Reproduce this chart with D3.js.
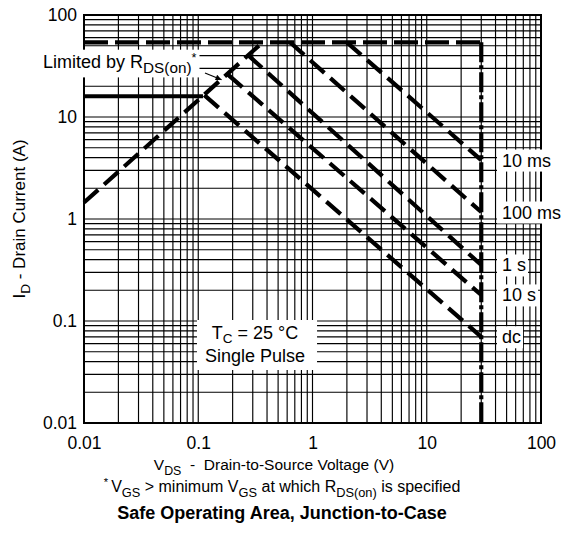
<!DOCTYPE html>
<html><head><meta charset="utf-8">
<script src="https://cdn.jsdelivr.net/npm/d3@7"></script>
<style>
body{margin:0;background:#fff}
svg{display:block}
text{font-family:"Liberation Sans",Arial,Helvetica,sans-serif;fill:#000}
</style>
</head><body>
<svg id="c" width="561" height="550"></svg>
<script>
// ---- data ----
const xTickValues = [0.01, 0.1, 1, 10, 100];
const xTickLabels = ["0.01", "0.1", "1", "10", "100"];
const yTickValues = [0.01, 0.1, 1, 10, 100];
const yTickLabels = ["0.01", "0.1", "1", "10", "100"];
const rdsLimit = [[0.01, 1.45], [0.366, 54]];
const currentLimit = [[0.01, 54], [30, 54]];
const voltageLimit = [[30, 54], [30, 0.01]];
const packageLimit = [[0.01, 16], [0.11, 16]];
const pulseLabels = ["10 ms", "100 ms", "1 s", "10 s", "dc"];
const pulseStart = [[2.0, 54], [0.635, 54], [0.272, 40.5], [0.182, 26], [0.113, 16.4]];
const pulseEnd = [[30, 3.78], [30, 1.17], [30, 0.354], [30, 0.18], [30, 0.07]];
const arrowTarget = [0.16, 23.2];

// ---- layout ----
const svg = d3.select("#c");
const x = d3.scaleLog().domain([0.01, 100]).range([84, 541]);
const y = d3.scaleLog().domain([0.01, 100]).range([423, 15]);

function rich(sel, parts, size, subF, subShift) {
  subF = subF || 0.8;
  subShift = subShift || 0.3;
  let state = 0;
  parts.forEach(p => {
    const ts = sel.append("tspan").text(p.t);
    let dy = 0;
    if (state === 1) dy -= size * subShift;
    if (state === 2) dy += size * 0.35;
    if (p.sub) { ts.attr("font-size", size * subF); dy += size * subShift; state = 1; }
    else if (p.sup) { ts.attr("font-size", size * 0.7); dy -= size * 0.35; state = 2; }
    else state = 0;
    if (dy) ts.attr("dy", dy);
  });
  return sel;
}

// grid
const grid = svg.append("g").attr("stroke", "#000").attr("stroke-width", 1.15);
grid.selectAll("line.v").data(x.ticks()).join("line")
  .attr("x1", d => x(d)).attr("x2", d => x(d)).attr("y1", y(0.01)).attr("y2", y(100));
grid.selectAll("line.h").data(y.ticks()).join("line")
  .attr("y1", d => y(d)).attr("y2", d => y(d)).attr("x1", x(0.01)).attr("x2", x(100));
svg.append("rect").attr("x", x(0.01)).attr("y", y(100))
  .attr("width", x(100) - x(0.01)).attr("height", y(0.01) - y(100))
  .attr("fill", "none").attr("stroke", "#000").attr("stroke-width", 2);

// axes labels
const ax = svg.append("g").attr("transform", `translate(0,${y(0.01)})`)
  .call(d3.axisBottom(x).tickValues(xTickValues).tickFormat((d, i) => xTickLabels[i]).tickSize(0).tickPadding(14));
const ay = svg.append("g").attr("transform", `translate(${x(0.01)},0)`)
  .call(d3.axisLeft(y).tickValues(yTickValues).tickFormat((d, i) => yTickLabels[i]).tickSize(0).tickPadding(7));
[ax, ay].forEach(a => {
  a.select(".domain").remove();
  a.selectAll("text").attr("font-size", 17.5).attr("font-family", '"Liberation Sans",Arial,sans-serif').attr("fill", "#000");
});

function boxed(g, pad) {
  const b = g.select("text").node().getBBox();
  g.insert("rect", "text").attr("x", b.x - pad[3]).attr("y", b.y - pad[0])
    .attr("width", b.width + pad[1] + pad[3]).attr("height", b.height + pad[0] + pad[2]).attr("fill", "#fff");
}

// Limited by RDS(on) label
const lg = svg.append("g");
rich(lg.append("text").attr("x", 43).attr("y", 68).attr("font-size", 18),
  [{t: "Limited by R"}, {t: "DS(on)", sub: true}, {t: "*", sup: true}], 18, 0.85);
boxed(lg, [1, 3, 1, 3]);

// TC box
const tg = svg.append("g");
const tt = tg.append("text").attr("text-anchor", "middle").attr("font-size", 18);
rich(tt.append("tspan").attr("x", 255).attr("y", 339), [{t: "T"}, {t: "C", sub: true}, {t: " = 25 °C"}], 18, 0.75, 0.2);
tt.append("tspan").attr("x", 255).attr("y", 362).text("Single Pulse");
boxed(tg, [3, 12, 4, 8]);

// curves
const line = d3.line().x(d => x(d[0])).y(d => y(d[1]));
const curves = svg.append("g").attr("fill", "none").attr("stroke", "#000").attr("stroke-width", 4.2);
curves.append("path").attr("d", line(packageLimit)).attr("stroke-width", 4);
curves.append("path").attr("d", line(rdsLimit)).attr("stroke-dasharray", "19,8");
curves.append("path").attr("d", line(currentLimit)).attr("stroke-dasharray", "24,7");
curves.selectAll("path.p").data(pulseStart).join("path").attr("class", "p")
  .attr("d", (d, i) => line([d, pulseEnd[i]])).attr("stroke-dasharray", "19,8");
curves.append("path").attr("d", line(voltageLimit)).attr("stroke-dasharray", "20,3,4,3");

// arrow
svg.append("defs").append("marker").attr("id", "ah").attr("viewBox", "0 0 10 10")
  .attr("refX", 10).attr("refY", 5).attr("markerWidth", 8).attr("markerHeight", 6)
  .attr("orient", "auto").attr("markerUnits", "userSpaceOnUse")
  .append("path").attr("d", "M0,0 L10,5 L0,10 z").attr("fill", "#000");
svg.append("line").attr("x1", 205).attr("y1", 73)
  .attr("x2", x(arrowTarget[0])).attr("y2", y(arrowTarget[1]))
  .attr("stroke", "#000").attr("stroke-width", 1.2).attr("marker-end", "url(#ah)");

// right labels
pulseLabels.forEach((lab, i) => {
  const g = svg.append("g");
  g.append("text").attr("x", 502).attr("y", y(pulseEnd[i][1])).attr("dy", "0.36em")
    .attr("font-size", 18).text(lab);
  boxed(g, [1, 2, 1, 5]);
});

// y title
const yt = svg.append("text").attr("transform", `translate(25,${(y(0.01) + y(100)) / 2}) rotate(-90)`)
  .attr("text-anchor", "middle").attr("font-size", 17);
rich(yt, [{t: "I"}, {t: "D", sub: true}, {t: " - Drain Current (A)"}], 17, 0.8);

// bottom texts
const xt = svg.append("text").attr("x", 274).attr("y", 470).attr("text-anchor", "middle")
  .attr("font-size", 15.5).style("white-space", "pre");
rich(xt, [{t: "V"}, {t: "DS", sub: true}, {t: "  -  Drain-to-Source Voltage (V)"}], 15.5, 0.8);
const fn = svg.append("text").attr("x", 282).attr("y", 492).attr("text-anchor", "middle").attr("font-size", 16);
rich(fn, [{t: "* ", sup: true}, {t: "V"}, {t: "GS", sub: true}, {t: " > minimum V"}, {t: "GS", sub: true},
  {t: " at which R"}, {t: "DS(on)", sub: true}, {t: " is specified"}], 16, 0.8);
svg.append("text").attr("x", 282).attr("y", 519).attr("text-anchor", "middle")
  .attr("font-size", 18).attr("font-weight", "bold").text("Safe Operating Area, Junction-to-Case");
</script>
</body></html>
